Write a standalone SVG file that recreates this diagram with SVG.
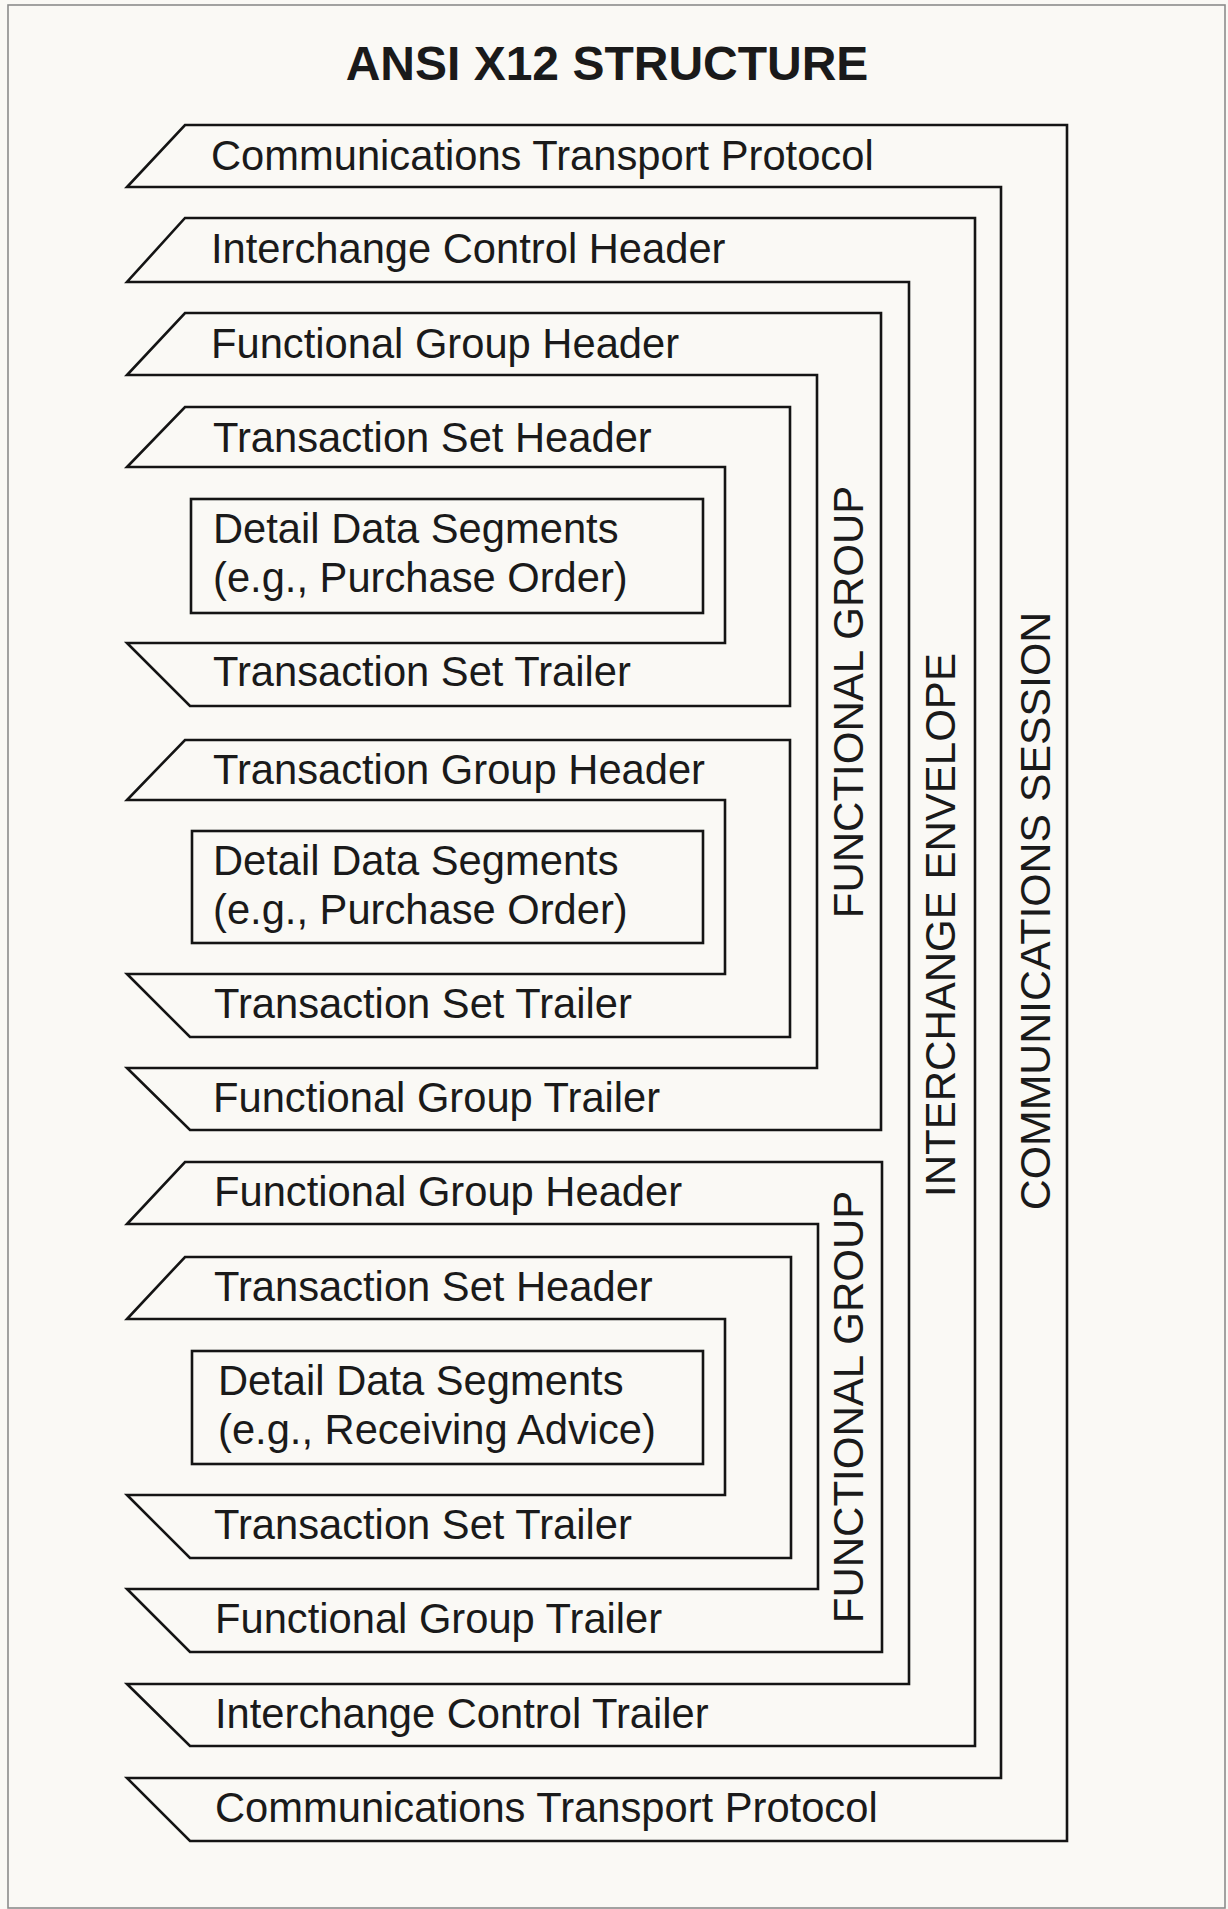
<svg xmlns="http://www.w3.org/2000/svg" width="1228" height="1909" viewBox="0 0 1228 1909">
  <style>
    .frame { fill: none; stroke: #8c8c8c; stroke-width: 1.6; }
    .band { fill: none; stroke: #141414; stroke-width: 2.6; stroke-linejoin: miter; }
    .lbl { font-family: "Liberation Sans", Arial, Helvetica, sans-serif; font-size: 41.7px; fill: #1a1a1a; }
    .vlbl { font-family: "Liberation Sans", Arial, Helvetica, sans-serif; font-size: 42px; fill: #1a1a1a; text-anchor: middle; }
    .title { font-family: "Liberation Sans", Arial, Helvetica, sans-serif; font-size: 48px; font-weight: bold; fill: #1a1a1a; text-anchor: middle; }
  </style>

  <!-- page -->
  <rect x="0" y="0" width="1228" height="1909" fill="#faf9f5"/>
  <rect class="frame" x="8" y="5" width="1217" height="1903"/>

  <text class="title" x="607" y="80">ANSI X12 STRUCTURE</text>

  <!-- nested envelopes, outermost first -->
  <g id="communications-session">
    <path class="band" d="M185,125 H1067 V1841 H190 L127,1778 H1001 V187 H127 Z"/>
    <text class="lbl" x="211" y="170">Communications Transport Protocol</text>
    <text class="lbl" x="215" y="1822">Communications Transport Protocol</text>
    <text class="vlbl" style="font-size:42.8px" transform="translate(1050,911) rotate(-90)">COMMUNICATIONS SESSION</text>
  </g>

  <g id="interchange-envelope">
    <path class="band" d="M185,218 H975 V1746 H190 L127,1684 H909 V282 H127 Z"/>
    <text class="lbl" x="211" y="263">Interchange Control Header</text>
    <text class="lbl" x="215" y="1728">Interchange Control Trailer</text>
    <text class="vlbl" transform="translate(955,925) rotate(-90)">INTERCHANGE ENVELOPE</text>
  </g>

  <g id="functional-group-1">
    <path class="band" d="M185,313 H881 V1130 H190 L127,1068 H817 V375 H127 Z"/>
    <text class="lbl" x="211" y="358">Functional Group Header</text>
    <text class="lbl" x="213" y="1112">Functional Group Trailer</text>
    <text class="vlbl" transform="translate(863,702) rotate(-90)">FUNCTIONAL GROUP</text>
  </g>

  <g id="transaction-set-1">
    <path class="band" d="M185,407 H790 V706 H190 L127,643 H725 V467 H127 Z"/>
    <text class="lbl" x="213" y="452">Transaction Set Header</text>
    <text class="lbl" x="213" y="686">Transaction Set Trailer</text>
  </g>

  <g id="detail-1">
    <rect class="band" x="191" y="499" width="512" height="114"/>
    <text class="lbl" x="213" y="543">Detail Data Segments</text>
    <text class="lbl" x="213" y="592">(e.g., Purchase Order)</text>
  </g>

  <g id="transaction-set-2">
    <path class="band" d="M185,740 H790 V1037 H190 L127,974 H725 V800 H127 Z"/>
    <text class="lbl" x="213" y="784">Transaction Group Header</text>
    <text class="lbl" x="214" y="1018">Transaction Set Trailer</text>
  </g>

  <g id="detail-2">
    <rect class="band" x="192" y="831" width="511" height="112"/>
    <text class="lbl" x="213" y="875">Detail Data Segments</text>
    <text class="lbl" x="213" y="924">(e.g., Purchase Order)</text>
  </g>

  <g id="functional-group-2">
    <path class="band" d="M185,1162 H882 V1652 H190 L127,1589 H818 V1224 H127 Z"/>
    <text class="lbl" x="214" y="1206">Functional Group Header</text>
    <text class="lbl" x="215" y="1633">Functional Group Trailer</text>
    <text class="vlbl" transform="translate(863,1407) rotate(-90)">FUNCTIONAL GROUP</text>
  </g>

  <g id="transaction-set-3">
    <path class="band" d="M185,1257 H791 V1558 H190 L127,1495 H725 V1319 H127 Z"/>
    <text class="lbl" x="214" y="1301">Transaction Set Header</text>
    <text class="lbl" x="214" y="1539">Transaction Set Trailer</text>
  </g>

  <g id="detail-3">
    <rect class="band" x="192" y="1351" width="511" height="113"/>
    <text class="lbl" x="218" y="1395">Detail Data Segments</text>
    <text class="lbl" x="218" y="1444">(e.g., Receiving Advice)</text>
  </g>

  <!-- no separate connectors: nesting is shown by the envelopes themselves -->
  <g id="connectors"/>
</svg>
